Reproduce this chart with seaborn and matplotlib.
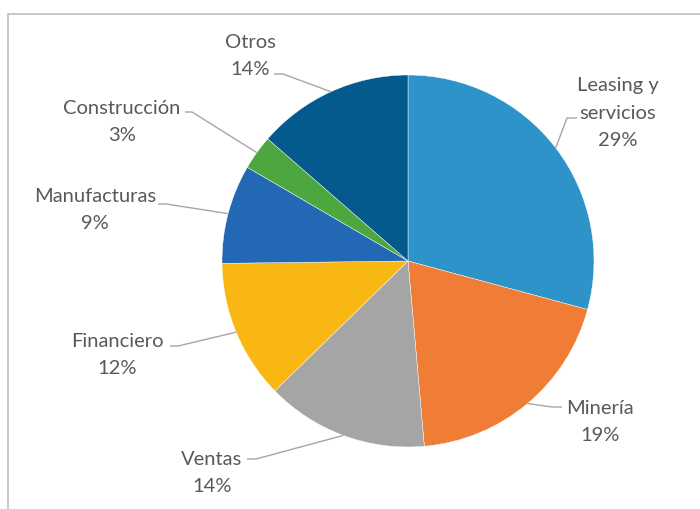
import numpy as np
import seaborn as sns
import matplotlib.pyplot as plt
from matplotlib.patches import Rectangle

# data
sectors = ["Leasing y\nservicios", "Minería", "Ventas", "Financiero",
           "Manufacturas", "Construcción", "Otros"]
shares = [29.2, 19.4, 14.1, 12.1, 8.6, 3.0, 13.6]
colors = ["#2E93C8", "#EF7D35", "#A5A5A5", "#F8B712",
          "#2268B4", "#4BA73E", "#045A8C"]

# layout (pixel positions in the 700x510 canvas)
W, H = 700, 510
CX, CY, R = 408, 262, 186
label_px = [(618, 113), (600, 422), (212, 473), (117, 355),
            (95, 210), (122, 122), (250, 56)]
stub_px = [((577, 119), (567, 119)), ((562, 408), (552, 408)),
           ((247, 460), (256, 460)), ((170, 347), (178, 347)),
           ((158, 205), (166, 205)), ((185, 113), (192, 113)),
           ((274, 75), (283, 75))]


def px(x, y):
    return (x - CX) / R, (CY - y) / R


sns.set_theme(style="white")
plt.rcParams['font.family'] = ['Lato', 'DejaVu Sans']

fig = plt.figure(figsize=(7, 5.1), dpi=100)
ax = fig.add_axes([0, 0, 1, 1])

wedges, _ = ax.pie(shares, colors=colors, startangle=90, counterclock=False,
                   radius=1, wedgeprops=dict(edgecolor="white", linewidth=0.3))
ax.set_xlim(-CX / R, (W - CX) / R)
ax.set_ylim(-(H - CY) / R, CY / R)
ax.set_aspect('auto')
ax.axis('off')

text_color = "#595959"
line_color = "#A6A6A6"
for w, name, val, lp, (a, b) in zip(wedges, sectors, shares, label_px, stub_px):
    ang = np.deg2rad((w.theta1 + w.theta2) / 2)
    tip = (np.cos(ang), np.sin(ang))
    pa, pb = px(*a), px(*b)
    ax.plot([pa[0], pb[0], tip[0]], [pa[1], pb[1], tip[1]],
            color=line_color, lw=1, solid_capstyle='butt')
    tx, ty = px(*lp)
    ax.text(tx, ty, f"{name}\n{val:.0f}%", ha='center', va='center',
            fontsize=14.5, color=text_color, linespacing=1.75)

# chart frame
fig.patches.append(Rectangle((8 / W, -0.1), 1.2, 1.1 - 15 / H,
                             transform=fig.transFigure, fill=False,
                             edgecolor="#BFBFBF", lw=1.2))

fig.savefig("out.png", dpi=100)
